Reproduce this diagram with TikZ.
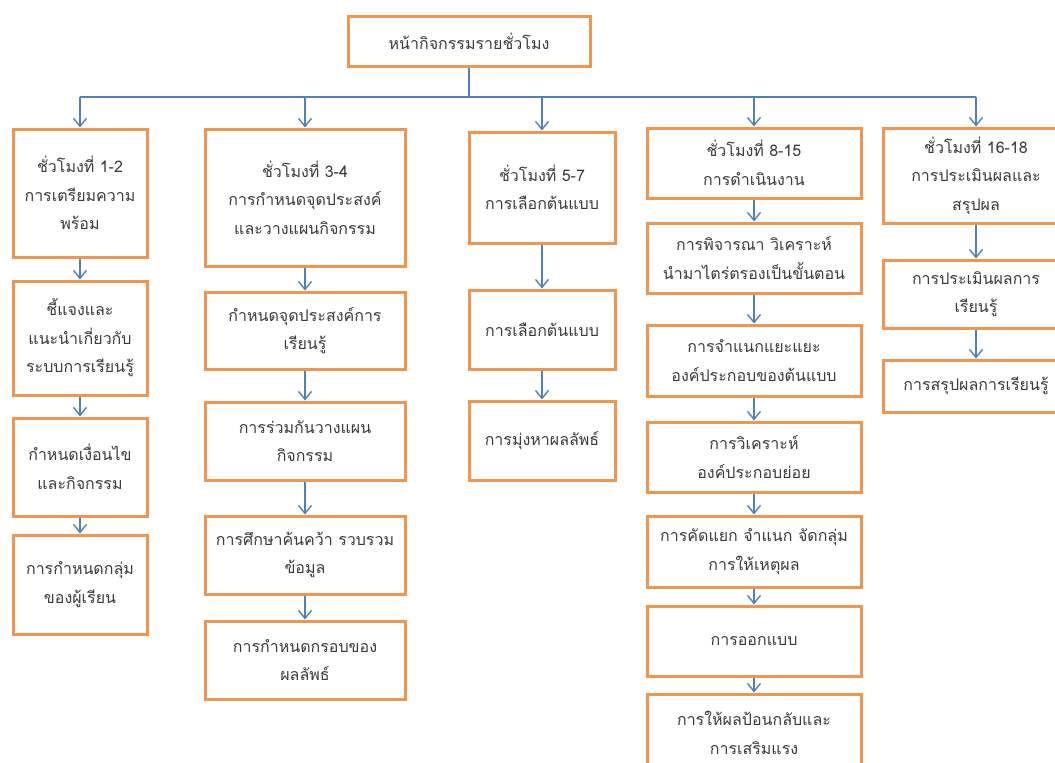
\documentclass[tikz,border=0pt]{standalone}
\usepackage{fontspec}
\newfontfamily\thaifont[Script=Thai]{Loma}
\usetikzlibrary{arrows.meta}
\definecolor{boxorange}{RGB}{240,150,80}
\definecolor{linkblue}{RGB}{79,129,189}
\definecolor{txtgray}{RGB}{60,60,60}

\begin{document}
\begin{tikzpicture}[x=1pt,y=-1pt,
  box/.style={draw=boxorange,line width=3pt,fill=white,align=center,
    text=txtgray,font=\thaifont\fontsize{16}{28.5}\selectfont,inner sep=0pt},
  link/.style={draw=linkblue,line width=1.4pt},
  arr/.style={link,-{Straight Barb[length=8pt,width=13pt]}}]
\useasboundingbox (0,0) rectangle (1055,763);
\clip (0,0) rectangle (1055,763);
\fill[white] (0,0) rectangle (1055,763);

% root
\node[box,minimum width=242pt,minimum height=50pt] (top) at (469,41) {หน้ากิจกรรมรายชั่วโมง};

% column 1
\node[box,minimum width=134pt,minimum height=128pt] (c1a) at (80,193) {ชั่วโมงที่ 1-2\\การเตรียมความ\\พร้อม};
\node[box,minimum width=134pt,minimum height=114pt] (c1b) at (80,338) {ชี้แจงและ\\แนะนำเกี่ยวกับ\\ระบบการเรียนรู้};
\node[box,minimum width=134pt,minimum height=98pt] (c1c) at (80,467) {กำหนดเงื่อนไข\\และกิจกรรม};
\node[box,minimum width=134pt,minimum height=99pt] (c1d) at (80,584.5) {การกำหนดกลุ่ม\\ของผู้เรียน};

% column 2
\node[box,minimum width=200pt,minimum height=137pt] (c2a) at (305,197.5) {ชั่วโมงที่ 3-4\\การกำหนดจุดประสงค์\\และวางแผนกิจกรรม};
\node[box,minimum width=200pt,minimum height=77pt] (c2b) at (305,330.5) {กำหนดจุดประสงค์การ\\เรียนรู้};
\node[box,minimum width=200pt,minimum height=78pt] (c2c) at (305,441) {การร่วมกันวางแผน\\กิจกรรม};
\node[box,minimum width=200pt,minimum height=78pt] (c2d) at (305,555) {การศึกษาค้นคว้า รวบรวม\\ข้อมูล};
\node[box,minimum width=200pt,minimum height=78pt] (c2e) at (305,660) {การกำหนดกรอบของ\\ผลลัพธ์};

% column 3
\node[box,minimum width=146pt,minimum height=111pt] (c3a) at (542,187.5) {ชั่วโมงที่ 5-7\\การเลือกต้นแบบ};
\node[box,minimum width=146pt,minimum height=79pt] (c3b) at (542,329.5) {การเลือกต้นแบบ};
\node[box,minimum width=146pt,minimum height=79pt] (c3c) at (542,440.5) {การมุ่งหาผลลัพธ์};

% column 4
\node[box,minimum width=214pt,minimum height=70pt] (c4a) at (754,163) {ชั่วโมงที่ 8-15\\การดำเนินงาน};
\node[box,minimum width=214pt,minimum height=70pt] (c4b) at (754,258) {การพิจารณา วิเคราะห์\\นำมาไตร่ตรองเป็นขั้นตอน};
\node[box,minimum width=214pt,minimum height=71pt] (c4c) at (754,360.5) {การจำแนกแยะแยะ\\องค์ประกอบของต้นแบบ};
\node[box,minimum width=214pt,minimum height=70pt] (c4d) at (754,457) {การวิเคราะห์\\องค์ประกอบย่อย};
\node[box,minimum width=214pt,minimum height=71pt] (c4e) at (754,551.5) {การคัดแยก จำแนก จัดกลุ่ม\\การให้เหตุผล};
\node[box,minimum width=214pt,minimum height=70pt] (c4f) at (754,641) {การออกแบบ};
\node[box,minimum width=214pt,minimum height=78pt] (c4g) at (754,733) {การให้ผลป้อนกลับและ\\การเสริมแรง};

% column 5
\node[box,minimum width=186pt,minimum height=95pt] (c5a) at (976,175.5) {ชั่วโมงที่ 16-18\\การประเมินผลและ\\สรุปผล};
\node[box,minimum width=186pt,minimum height=68pt] (c5b) at (976,294) {การประเมินผลการ\\เรียนรู้};
\node[box,minimum width=186pt,minimum height=52pt] (c5c) at (976,386) {การสรุปผลการเรียนรู้};

% distribution bus
\coordinate (busL) at (80,97);
\coordinate (busR) at (976,97);
\draw[link] (top.south) -- (top.south |- busL);
\draw[link] (busL) -- (busR);
\foreach \n in {c1a,c2a,c3a,c4a,c5a}
  \draw[arr] (\n.north |- busL) -- (\n.north);

% arrows inside the columns
\foreach \a/\b in {c1a/c1b,c1b/c1c,c1c/c1d,
                   c2a/c2b,c2b/c2c,c2c/c2d,c2d/c2e,
                   c3a/c3b,c3b/c3c,
                   c4a/c4b,c4b/c4c,c4c/c4d,c4d/c4e,c4e/c4f,c4f/c4g,
                   c5a/c5b,c5b/c5c}
  \draw[arr] (\a.south) -- (\b.north);
\end{tikzpicture}
\end{document}
